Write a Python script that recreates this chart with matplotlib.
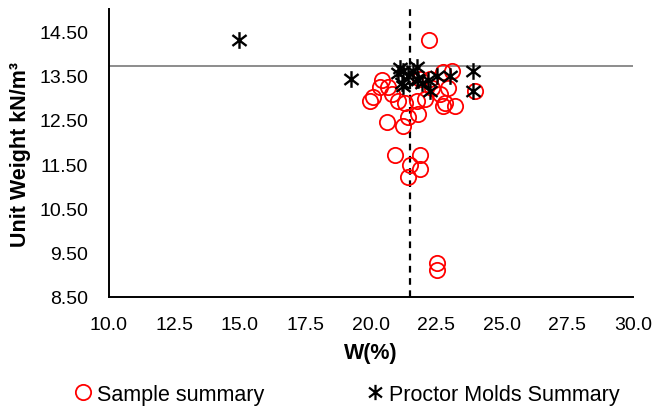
import matplotlib
matplotlib.use("Agg")
import matplotlib.pyplot as plt
from matplotlib.path import Path
from matplotlib.lines import Line2D

plt.rcParams["font.family"] = ["Liberation Sans", "DejaVu Sans"]

# sample summary (red open circles)
sample_w = [22.21, 22.52, 22.52, 20.92, 21.87, 21.49, 21.87, 21.41,
            20.42, 20.34, 20.08, 19.96, 20.65, 21.03, 21.30, 21.76,
            21.41, 21.22, 20.61, 21.79, 23.09, 22.94, 22.63, 23.21,
            22.82, 22.06, 23.97, 22.75, 22.33, 20.80, 22.75, 21.87, 22.25]
sample_gamma = [14.31, 9.27, 9.11, 11.71, 11.71, 11.49, 11.40, 11.21,
                13.39, 13.25, 13.02, 12.93, 13.23, 12.93, 12.87, 12.93,
                12.57, 12.37, 12.46, 12.64, 13.61, 13.21, 13.09, 12.82,
                12.87, 12.98, 13.16, 13.57, 13.21, 13.09, 12.80, 13.43, 13.43]

# proctor molds summary (black asterisks)
proctor_w = [14.96, 19.24, 21.03, 21.22, 21.41, 21.18, 21.60, 21.76,
             21.95, 21.76, 21.79, 22.18, 22.52, 23.02, 22.25, 23.89,
             23.89, 21.22, 21.11]
proctor_gamma = [14.31, 13.43, 13.55, 13.61, 13.48, 13.32, 13.61, 13.43,
                 13.32, 13.70, 13.39, 13.39, 13.48, 13.48, 13.14, 13.61,
                 13.16, 13.27, 13.66]

w_opt = 21.5        # dashed vertical reference
gamma_max = 13.71   # horizontal reference

x_ticks = [10.0, 12.5, 15.0, 17.5, 20.0, 22.5, 25.0, 27.5, 30.0]
y_ticks = [8.5, 9.5, 10.5, 11.5, 12.5, 13.5, 14.5]

# Excel-like star marker: vertical bar plus an X
star = Path(
    [(0, -1), (0, 1), (-0.85, -0.65), (0.85, 0.65), (-0.85, 0.65), (0.85, -0.65)],
    [Path.MOVETO, Path.LINETO, Path.MOVETO, Path.LINETO, Path.MOVETO, Path.LINETO],
)

fig = plt.figure(figsize=(6.55, 4.14), dpi=100)
ax = fig.add_axes([0.1664, 0.2802, 0.80, 0.6956])

ax.axhline(gamma_max, color="#8c8c8c", lw=1.4, zorder=1)
ax.axvline(w_opt, color="black", lw=1.6, ls=(0, (3, 2.5)), zorder=1)

ax.plot(sample_w, sample_gamma, ls="none", marker="o", ms=11,
        mfc="none", mec="#ff0000", mew=1.3, zorder=2)
ax.plot(proctor_w, proctor_gamma, ls="none", marker=star, ms=12,
        mfc="none", mec="black", mew=1.7, zorder=3)

ax.set_xlim(10, 30)
ax.set_ylim(8.5, 15.0)
ax.set_xticks(x_ticks)
ax.set_xticklabels([f"{v:.1f}" for v in x_ticks])
ax.set_yticks(y_ticks)
ax.set_yticklabels([f"{v:.2f}" for v in y_ticks])
ax.tick_params(length=0, labelsize=14)
ax.tick_params(axis="y", pad=15)
ax.tick_params(axis="x", pad=14)
for side in ["top", "right"]:
    ax.spines[side].set_visible(False)
for side in ["left", "bottom"]:
    ax.spines[side].set_linewidth(1.4)

ax.set_xlabel("W(%)", fontsize=15.5, fontweight="bold", labelpad=6)
ax.set_ylabel("Unit Weight kN/m³", fontsize=15.5, fontweight="bold", labelpad=6)

handles = [
    Line2D([], [], ls="none", marker="o", ms=11, mfc="none", mec="#ff0000", mew=1.3),
    Line2D([], [], ls="none", marker=star, ms=11, mfc="none", mec="black", mew=1.6),
]
fig.legend(handles, ["Sample summary", "Proctor Molds Summary"], ncol=2,
           loc="center", bbox_to_anchor=(0.527, 0.045), frameon=False,
           fontsize=15.5, handletextpad=0.1, columnspacing=4.6, handlelength=1.1)

fig.savefig("out.png", dpi=100)
